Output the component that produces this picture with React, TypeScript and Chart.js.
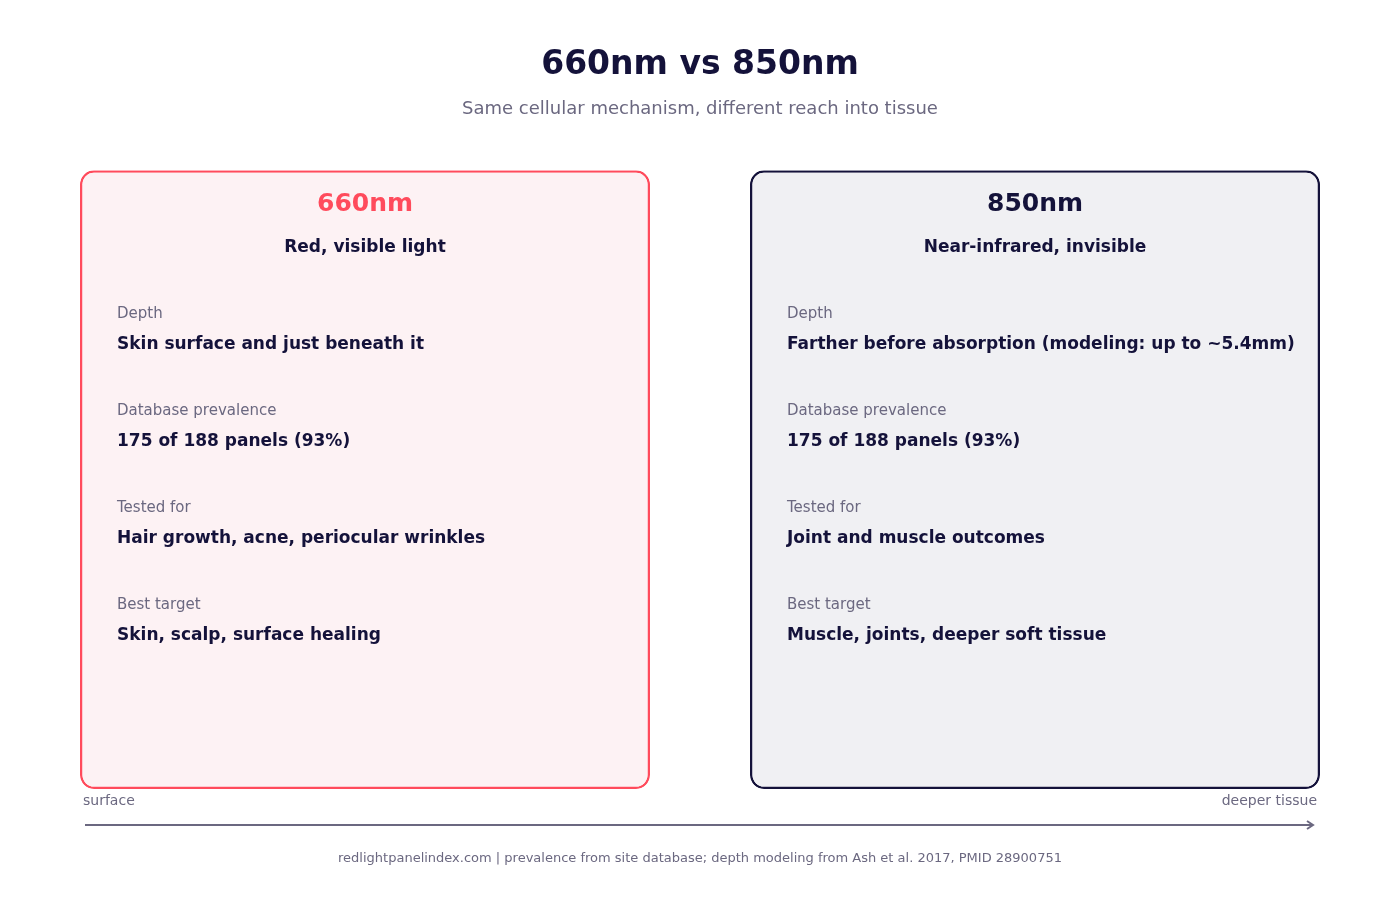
import React, { useEffect, useRef } from "react";
import { Chart, registerables, ChartConfiguration, Plugin } from "chart.js";

Chart.register(...registerables);

const NAVY = "#14123a";
const MUTED = "#6b6880";
const FONT = "'DejaVu Sans', sans-serif";

// cards
const wavelengths = ["660nm", "850nm"];
const lightKinds = ["Red, visible light", "Near-infrared, invisible"];
const cardFills = ["#fdf2f4", "#f0f0f3"];
const cardBorders = ["#ff4b5c", NAVY];
const headingColors = ["#ff4b5c", NAVY];

// rows inside each card
const rowLabels = ["Depth", "Database prevalence", "Tested for", "Best target"];
const values660 = [
  "Skin surface and just beneath it",
  "175 of 188 panels (93%)",
  "Hair growth, acne, periocular wrinkles",
  "Skin, scalp, surface healing",
];
const values850 = [
  "Farther before absorption (modeling: up to ~5.4mm)",
  "175 of 188 panels (93%)",
  "Joint and muscle outcomes",
  "Muscle, joints, deeper soft tissue",
];
const cardValues = [values660, values850];

const axisEnds = ["surface", "deeper tissue"];
const footnote =
  "redlightpanelindex.com | prevalence from site database; depth modeling from Ash et al. 2017, PMID 28900751";

const cardText: Plugin<"bar"> = {
  id: "cardText",
  afterDatasetsDraw(chart) {
    const ctx = chart.ctx;
    const meta = chart.getDatasetMeta(0);
    meta.data.forEach((el: any, i: number) => {
      const { x, y, width } = el.getProps(["x", "y", "width"], true);
      const left = x - width / 2;
      ctx.save();
      ctx.textBaseline = "middle";
      ctx.textAlign = "center";
      ctx.fillStyle = headingColors[i];
      ctx.font = `bold 25px ${FONT}`;
      ctx.fillText(wavelengths[i], x, y + 34);
      ctx.fillStyle = NAVY;
      ctx.font = `bold 17px ${FONT}`;
      ctx.fillText(lightKinds[i], x, y + 77);
      ctx.textAlign = "left";
      rowLabels.forEach((label, r) => {
        const ry = y + 144 + r * 97;
        ctx.fillStyle = MUTED;
        ctx.font = `15px ${FONT}`;
        ctx.fillText(label, left + 37, ry);
        ctx.fillStyle = NAVY;
        ctx.font = `bold 17px ${FONT}`;
        ctx.fillText(cardValues[i][r], left + 37, ry + 30);
      });
      ctx.restore();
    });
  },
};

const depthArrow: Plugin<"bar"> = {
  id: "depthArrow",
  afterDraw(chart) {
    const ctx = chart.ctx;
    const { left, right, bottom } = chart.chartArea;
    const meta = chart.getDatasetMeta(0);
    const first: any = meta.data[0];
    const last: any = meta.data[meta.data.length - 1];
    const x0 = first.x - first.width / 2;
    const x1 = last.x + last.width / 2;
    ctx.save();
    ctx.fillStyle = MUTED;
    ctx.font = `14px ${FONT}`;
    ctx.textBaseline = "middle";
    ctx.textAlign = "left";
    ctx.fillText(axisEnds[0], x0 + 3, bottom + 12);
    ctx.textAlign = "right";
    ctx.fillText(axisEnds[1], x1 - 3, bottom + 12);

    const ay = bottom + 36;
    ctx.strokeStyle = MUTED;
    ctx.lineWidth = 2;
    ctx.beginPath();
    ctx.moveTo(x0 + 5, ay);
    ctx.lineTo(x1 - 7, ay);
    ctx.stroke();
    ctx.beginPath();
    ctx.moveTo(x1 - 13, ay - 4);
    ctx.lineTo(x1 - 7, ay);
    ctx.lineTo(x1 - 13, ay + 4);
    ctx.stroke();

    ctx.textAlign = "center";
    ctx.font = `13px ${FONT}`;
    ctx.fillText(footnote, (left + right) / 2, bottom + 70);
    ctx.restore();
  },
};

const App: React.FC = () => {
  const chartRef = useRef<HTMLCanvasElement>(null);
  const chartInstance = useRef<Chart | null>(null);

  useEffect(() => {
    document.body.style.margin = "0";
    if (chartRef.current) {
      if (chartInstance.current) {
        chartInstance.current.destroy();
      }
      const ctx = chartRef.current.getContext("2d");
      if (ctx) {
        const config: ChartConfiguration<"bar"> = {
          type: "bar",
          data: {
            labels: wavelengths,
            datasets: [
              {
                data: wavelengths.map(() => [0, 1] as [number, number]),
                backgroundColor: cardFills,
                borderColor: cardBorders,
                borderWidth: 2.5,
                borderRadius: 14,
                borderSkipped: false,
                barPercentage: 570 / 670,
                categoryPercentage: 1,
              },
            ],
          },
          options: {
            responsive: false,
            animation: false,
            layout: { padding: { top: 0, left: 30, right: 30, bottom: 111 } },
            scales: {
              x: { display: false },
              y: { display: false, min: 0, max: 1 },
            },
            plugins: {
              legend: { display: false },
              tooltip: { enabled: false },
              title: {
                display: true,
                text: "660nm vs 850nm",
                color: NAVY,
                font: { family: FONT, size: 33, weight: "bold", lineHeight: 1.2 },
                padding: { top: 45.7, bottom: 12.9 },
              },
              subtitle: {
                display: true,
                text: "Same cellular mechanism, different reach into tissue",
                color: MUTED,
                font: { family: FONT, size: 18, lineHeight: 1.2 },
                padding: { top: 0, bottom: 50.5 },
              },
            },
          },
          plugins: [cardText, depthArrow],
        };
        chartInstance.current = new Chart(ctx, config);
      }
    }
    return () => {
      if (chartInstance.current) {
        chartInstance.current.destroy();
        chartInstance.current = null;
      }
    };
  }, []);

  return (
    <div style={{ position: "absolute", left: 0, top: 0, width: 1400, height: 900, background: "#fff" }}>
      <canvas ref={chartRef} width={1400} height={900} />
    </div>
  );
};

export default App;
